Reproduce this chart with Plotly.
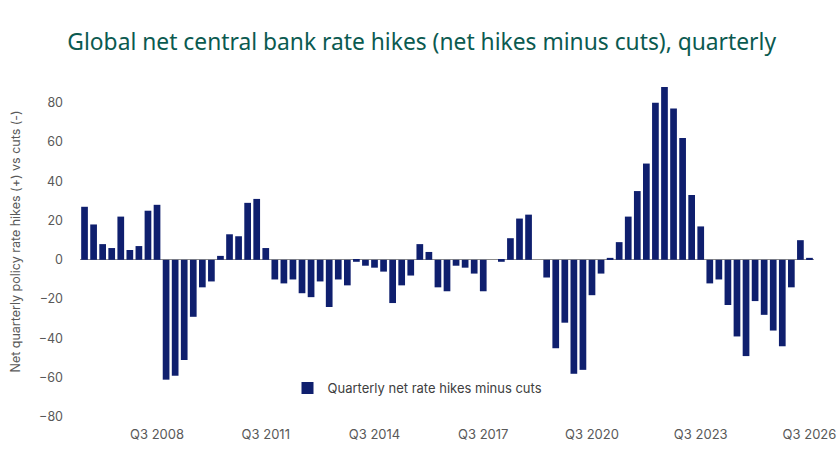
"""Global net central bank rate hikes (net hikes minus cuts), quarterly bar chart."""

import plotly.graph_objects as go

# quarterly categories, Q3 2006 -> Q3 2026
quarters = []
for yr in range(2006, 2027):
    for q in (1, 2, 3, 4):
        if (yr == 2006 and q < 3) or (yr == 2026 and q > 3):
            continue
        quarters.append(f"Q{q} {yr}")

net_hikes = [
    27, 18, 8, 6, 22, 5, 7, 25,
    28, -61, -59, -51, -29, -14, -11, 2, 13, 12, 29, 31,
    6, -10, -12, -10, -17, -19, -11, -24, -10, -13, -1, -3,
    -4, -6, -22, -13, -8, 8, 4, -14, -16, -3, -4, -7,
    -16, 0, -1, 11, 21, 23, 0, -9, -45, -32, -58, -56,
    -18, -7, 1, 9, 22, 35, 49, 80, 88, 77, 62, 33,
    17, -12, -10, -23, -39, -49, -21, -28, -36, -44, -14, 10,
    1,
]

tick_labels = ["Q3 2008", "Q3 2011", "Q3 2014", "Q3 2017",
               "Q3 2020", "Q3 2023", "Q3 2026"]
y_ticks = [-80, -60, -40, -20, 0, 20, 40, 60, 80]

BAR = "#0f1f6e"
TEAL = "#0b5a50"
GREY = "#595959"

fig = go.Figure()
fig.add_trace(go.Bar(
    x=quarters, y=net_hikes,
    name="Quarterly net rate hikes minus cuts",
    marker=dict(color=BAR, line=dict(width=0)),
))

fig.update_layout(
    width=840, height=472,
    paper_bgcolor="white", plot_bgcolor="white",
    font=dict(family="Inter, Roboto, sans-serif", color=GREY, size=12),
    title=dict(
        text="Global net central bank rate hikes (net hikes minus cuts), quarterly",
        x=0.502, xanchor="center", y=0.91, yanchor="middle",
        font=dict(family="Noto Sans, Open Sans, sans-serif", size=22.8, color=TEAL),
    ),
    margin=dict(l=80, r=26, t=83, b=55, autoexpand=False),
    bargap=0.26,
    showlegend=True,
    legend=dict(
        orientation="h", x=0.2827, xanchor="left", y=0.087, yanchor="middle",
        font=dict(size=13, color="#404040"), bgcolor="rgba(0,0,0,0)",
    ),
    xaxis=dict(
        type="category", range=[-0.5, len(quarters) - 0.5],
        tickmode="array", tickvals=tick_labels, ticktext=tick_labels,
        showline=False, showgrid=False, ticks="", ticklabelstandoff=8,
        automargin=False,
        tickfont=dict(size=13, color=GREY),
    ),
    yaxis=dict(
        range=[-80, 90], tickvals=y_ticks,
        showgrid=False, showline=False, ticks="",
        zeroline=True, zerolinecolor="#8c8c8c", zerolinewidth=1,
        automargin=False,
        ticklabelstandoff=16, tickfont=dict(size=12.5, color=GREY),
    ),
    annotations=[dict(
        text="Net quarterly policy rate hikes (+) vs cuts (-)",
        xref="paper", yref="paper",
        x=(15 - 80) / 734, y=(417 - 241.5) / 334,
        xanchor="center", yanchor="middle", textangle=-90,
        showarrow=False, font=dict(size=12.5, color=GREY),
    )],
)

# page body has a default 8px margin; drop it so the figure sits at 0,0
fig.write_html(
    "out.html",
    config={"displayModeBar": False},
    post_script="document.body.style.margin='0';",
)
